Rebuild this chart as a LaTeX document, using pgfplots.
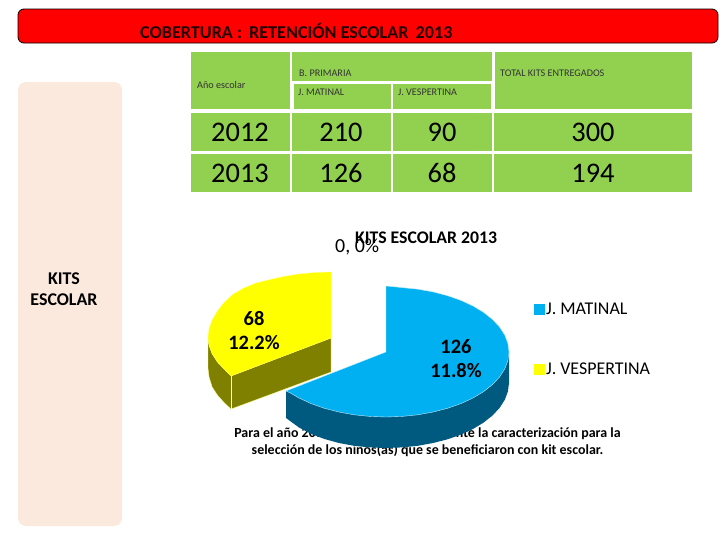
\documentclass[border=0pt]{standalone}
\usepackage{fontspec}
\setmainfont{Carlito}
\usepackage{pgfplots}
\pgfplotsset{compat=1.18}
\definecolor{gcell}{HTML}{92D050}
\definecolor{peach}{HTML}{FBE9DD}
\definecolor{kblue}{HTML}{00B0F0}
\definecolor{kdark}{HTML}{005A80}
\definecolor{kyel}{HTML}{FFFF00}
\definecolor{kolive}{HTML}{808000}
\newcommand{\fs}[1]{\fontsize{#1}{#1}\selectfont}
\begin{document}
\begin{tikzpicture}
\path[use as bounding box] (0,0) rectangle (720bp,540bp);
\begin{axis}[scale only axis, width=720bp, height=540bp,
  xmin=0, xmax=720, ymin=0, ymax=540, y dir=reverse, hide axis, clip=false]
% panel and title bar
\addplot[fill=peach, draw=none, rounded corners=8pt] coordinates {(18,82) (122,82) (122,526) (18,526)} --cycle;
\addplot[fill=red, draw=black, line width=0.8pt, rounded corners=6pt] coordinates {(18,9) (718,9) (718,43) (18,43)} --cycle;
\node[anchor=west, inner sep=0pt, font=\fs{18.2}\bfseries, text=black!85!red] at (axis cs:140,31) {COBERTURA :\, RETENCIÓN ESCOLAR\, 2013};
\node[align=center, inner sep=0pt, font=\fs{18}\bfseries, text=black] at (axis cs:64,289.5) {KITS\\[3pt]ESCOLAR};
% table cells
\addplot[fill=gcell, draw=none] coordinates {(191,52) (290,52) (290,109) (191,109)} --cycle;
\addplot[fill=gcell, draw=none] coordinates {(292,52) (492,52) (492,81) (292,81)} --cycle;
\addplot[fill=gcell, draw=none] coordinates {(294,84) (391,84) (391,109) (294,109)} --cycle;
\addplot[fill=gcell, draw=none] coordinates {(393,84) (491,84) (491,109) (393,109)} --cycle;
\addplot[fill=gcell, draw=none] coordinates {(495,52) (692,52) (692,109) (495,109)} --cycle;
\addplot[fill=gcell, draw=none] coordinates {(191,113) (290,113) (290,151) (191,151)} --cycle;
\addplot[fill=gcell, draw=none] coordinates {(292,113) (391,113) (391,151) (292,151)} --cycle;
\addplot[fill=gcell, draw=none] coordinates {(393,113) (492,113) (492,151) (393,151)} --cycle;
\addplot[fill=gcell, draw=none] coordinates {(494,113) (692,113) (692,151) (494,151)} --cycle;
\addplot[fill=gcell, draw=none] coordinates {(191,154) (290,154) (290,192) (191,192)} --cycle;
\addplot[fill=gcell, draw=none] coordinates {(292,154) (391,154) (391,192) (292,192)} --cycle;
\addplot[fill=gcell, draw=none] coordinates {(393,154) (492,154) (492,192) (393,192)} --cycle;
\addplot[fill=gcell, draw=none] coordinates {(494,154) (692,154) (692,192) (494,192)} --cycle;
\foreach \x/\y/\t in {197/85/Año escolar, 299/73/B. PRIMARIA, 298/92/J. MATINAL, 398/92/J. VESPERTINA, 500/73/TOTAL KITS ENTREGADOS}{
  \edef\tmp{\noexpand\node[anchor=west, inner sep=0pt, font=\noexpand\fs{10.2}, text=black!80] at (axis cs:\x,\y) {\t};}\tmp
}
\foreach \x/\y/\t in {240/141/2012, 341/141/210, 442/141/90, 593/141/300, 240/182/2013, 341/182/126, 442/182/68, 593/182/194}{
  \edef\tmp{\noexpand\node[anchor=base, inner sep=0pt, font=\noexpand\fs{28.5}] at (axis cs:\x,\y) {\t};}\tmp
}
% caption, partly behind the pie
\node[align=center, inner sep=0pt, font=\fs{14}\bfseries] at (axis cs:427.5,442.5) {Para el año 2013 se realizó\hspace{12pt} nuevamente la caracterización para la\\[3pt]selección de los niños(as) que se beneficiaron con kit escolar.};
% yellow slice
\addplot[fill=kolive, draw=kyel!50!white, line width=0.3pt] coordinates {(208,337) (209.1,345.5) (212.2,353.8) (217.4,361.9) (224.5,369.5) (231,376) (331,338) (331,372) (231,409) (224.5,403) (217.4,395) (212.2,387) (209.1,377) (208,368)} --cycle;
\addplot[white, line width=0.5pt] coordinates {(231,376) (231,409)};
\addplot[fill=kyel, draw=kyel!60!white, line width=0.3pt] coordinates {(331,272) (314.9,272.6) (299.2,274) (283.9,276.5) (269.5,279.7) (256.1,283) (244,288) (233.4,294) (224.5,302) (217.4,311) (212.2,320) (209.1,328.5) (208,337) (209.1,345.5) (212.2,353.8) (217.4,361.9) (224.5,369.5) (231,376) (331,338)} --cycle;
% blue slice
\addplot[fill=kdark, draw=none] coordinates {(509,352) (509,383) (507.9,391.5) (504.8,399.8) (499.6,407.9) (492.5,415.5) (483.6,422.6) (473,429) (460.9,434.6) (447.5,439.3) (433.1,443) (417.8,445.8) (402.1,447.4) (386,448) (369.9,447.4) (354.2,445.8) (338.9,443) (324.5,439) (311.1,434) (299,427.5) (286,418) (286,391) (386,417) (509,352)} --cycle;
\addplot[fill=kblue, draw=white!75!kblue, line width=0.4pt] coordinates {(386,286) (402.1,287.6) (417.8,289.2) (433.1,291.9) (447.5,295.7) (460.9,300.4) (473,306) (483.6,312.4) (492.5,319.5) (499.6,327.1) (504.8,335.2) (507.9,343.5) (509,352) (507.9,360.5) (504.8,368.8) (499.6,376.9) (492.5,384.5) (483.6,391.6) (473,398) (460.9,403.6) (447.5,408.3) (433.1,412) (417.8,414.8) (402.1,416.4) (386,417) (369.9,416.4) (354.2,414.8) (338.9,412) (324.5,408.3) (311.1,403.6) (299,398) (290.4,393) (286,391) (386,352)} --cycle;
% legend keys
\addplot[fill=kblue, draw=none] coordinates {(534,304) (545,304) (545,315) (534,315)} --cycle;
\addplot[fill=kyel, draw=none] coordinates {(534,364) (545,364) (545,375) (534,375)} --cycle;
\node[anchor=west, inner sep=0pt, font=\fs{18}] at (axis cs:546,309) {J. MATINAL};
\node[anchor=west, inner sep=0pt, font=\fs{18}] at (axis cs:546,369) {J. VESPERTINA};
% data labels
\node[align=center, inner sep=0pt, font=\fs{20.5}\bfseries] at (axis cs:254,330.5) {68\\[4pt]12.2\%};
\node[align=center, inner sep=0pt, font=\fs{20.5}\bfseries] at (axis cs:456,358.5) {126\\[4pt]11.8\%};
\node[anchor=west, inner sep=0pt, font=\fs{17.8}\bfseries] at (axis cs:355,238) {KITS ESCOLAR 2013};
\node[anchor=west, inner sep=0pt, font=\fs{20}] at (axis cs:335,247) {0, 0\%};
\end{axis}
\end{tikzpicture}
\end{document}
